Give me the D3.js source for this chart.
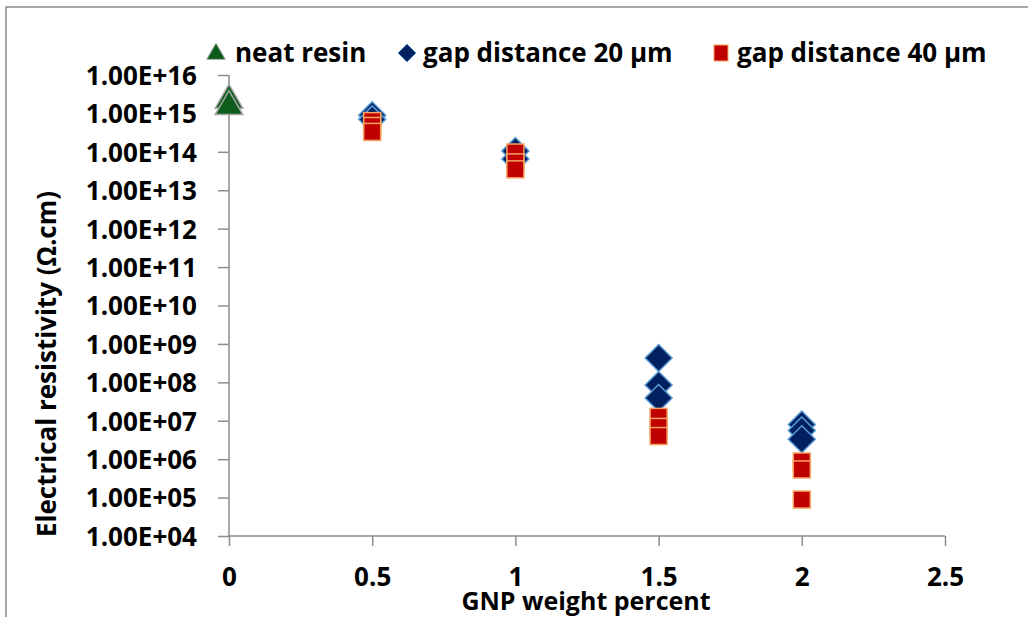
<!DOCTYPE html>
<html>
<head>
<meta charset="utf-8">
<script src="https://cdn.jsdelivr.net/npm/d3@7"></script>
<style>
  body { margin: 0; background: #fff; }
  text { font-family: "Open Sans", sans-serif; font-weight: bold; fill: #000; }
</style>
</head>
<body>
<div id="chart"></div>
<script>
// values
const neatX = [0, 0];
const neatY = [2.2e15, 1.5e15];
const gap20X = [0.5, 0.5, 1, 1, 1.5, 1.5, 1.5, 2, 2, 2];
const gap20Y = [9e14, 7e14, 1.05e14, 6.5e13, 4.3e8, 8.5e7, 3.9e7, 8e6, 5.6e6, 3.3e6];
const gap40X = [0.5, 0.5, 0.5, 1, 1, 1, 1.5, 1.5, 1.5, 2, 2, 2];
const gap40Y = [6.3e14, 4.7e14, 3.3e14, 9.6e13, 5.3e13, 3.5e13, 1.26e7, 6.9e6, 4e6, 8.7e5, 5.4e5, 8.9e4];
const xTicks = [0, 0.5, 1, 1.5, 2, 2.5];
const yTicks = [1e4, 1e5, 1e6, 1e7, 1e8, 1e9, 1e10, 1e11, 1e12, 1e13, 1e14, 1e15, 1e16];
const seriesNames = ["neat resin", "gap distance 20 µm", "gap distance 40 µm"];

const width = 1028, height = 617;
const plotL = 229, plotR = 945, plotT = 75, plotB = 536;

const svg = d3.select('#chart').append('svg')
    .attr('width', width)
    .attr('height', height);

// chart border (only top and left are in frame)
svg.append('path')
    .attr('d', `M6,${height} V7 H${width}`)
    .attr('fill', 'none')
    .attr('stroke', '#8c8c8c')
    .attr('stroke-width', 1.5);

const x = d3.scaleLinear().domain([0, 2.5]).range([plotL, plotR]);
const y = d3.scaleLog().domain([1e4, 1e16]).range([plotB, plotT]);

const fmt = d => "1.00E+" + String(Math.round(Math.log10(d))).padStart(2, '0');

const yAxis = svg.append('g')
    .attr('transform', `translate(${plotL},0)`)
    .call(d3.axisLeft(y).tickValues(yTicks).tickFormat(fmt).tickSize(11).tickPadding(21));
yAxis.selectAll('text').style('font-size', '26px').attr('dy', '0.36em');

const xAxis = svg.append('g')
    .attr('transform', `translate(0,${plotB})`)
    .call(d3.axisBottom(x).tickValues(xTicks).tickFormat(d3.format('')).tickSize(10));
xAxis.selectAll('text').style('font-size', '26px').attr('y', 50).attr('dy', 0);

svg.selectAll('.domain, .tick line').attr('stroke', '#8c8c8c').attr('stroke-width', 1.5);
// plain axis lines, no outer stubs
yAxis.select('.domain').attr('d', `M0,${plotT}V${plotB}`);
xAxis.select('.domain').attr('d', `M${plotL},0H${plotR}`);

// axis titles
svg.append('text')
    .attr('x', 586).attr('y', 610)
    .attr('text-anchor', 'middle')
    .style('font-size', '25px')
    .text('GNP weight percent');

svg.append('text')
    .attr('transform', `translate(56,364) rotate(-90)`)
    .attr('text-anchor', 'middle')
    .style('font-size', '26px')
    .text('Electrical resistivity (Ω.cm)');

// markers
const tri = d3.symbol().type(d3.symbolTriangle).size(330);
const dia = s => `M0,${-s}L${s},0L0,${s}L${-s},0Z`;

const neat = d3.zip(neatX, neatY);
const g20 = d3.zip(gap20X, gap20Y);
const g40 = d3.zip(gap40X, gap40Y);

svg.selectAll('.neat').data(neat).enter().append('path')
    .attr('class', 'neat')
    .attr('d', tri)
    .attr('transform', d => `translate(${x(d[0])},${y(d[1])})`)
    .attr('fill', '#0d5c1c').attr('stroke', '#a6a6a6').attr('stroke-width', 1.5);

svg.selectAll('.g20').data(g20).enter().append('path')
    .attr('class', 'g20')
    .attr('d', dia(13.5))
    .attr('transform', d => `translate(${x(d[0])},${y(d[1])})`)
    .attr('fill', '#002060').attr('stroke', '#5b9bd5').attr('stroke-width', 1.5);

svg.selectAll('.g40').data(g40).enter().append('rect')
    .attr('class', 'g40')
    .attr('x', d => x(d[0]) - 8.5).attr('y', d => y(d[1]) - 8.5)
    .attr('width', 17).attr('height', 17)
    .attr('fill', '#c00000').attr('stroke', '#f4a460').attr('stroke-width', 1.5);

// legend
const lg = svg.append('g');
lg.append('path').attr('d', d3.symbol().type(d3.symbolTriangle).size(150))
    .attr('transform', 'translate(216,54)')
    .attr('fill', '#0d5c1c').attr('stroke', '#a6a6a6');
lg.append('text').attr('x', 235).attr('y', 62).style('font-size', '26px').text(seriesNames[0]);
lg.append('path').attr('d', dia(9))
    .attr('transform', 'translate(407,53)')
    .attr('fill', '#002060').attr('stroke', '#5b9bd5');
lg.append('text').attr('x', 423).attr('y', 62).style('font-size', '26px').text(seriesNames[1]);
lg.append('rect').attr('x', 714).attr('y', 45).attr('width', 14).attr('height', 16)
    .attr('fill', '#c00000').attr('stroke', '#f4a460');
lg.append('text').attr('x', 737).attr('y', 62).style('font-size', '26px').text(seriesNames[2]);
</script>
</body>
</html>
